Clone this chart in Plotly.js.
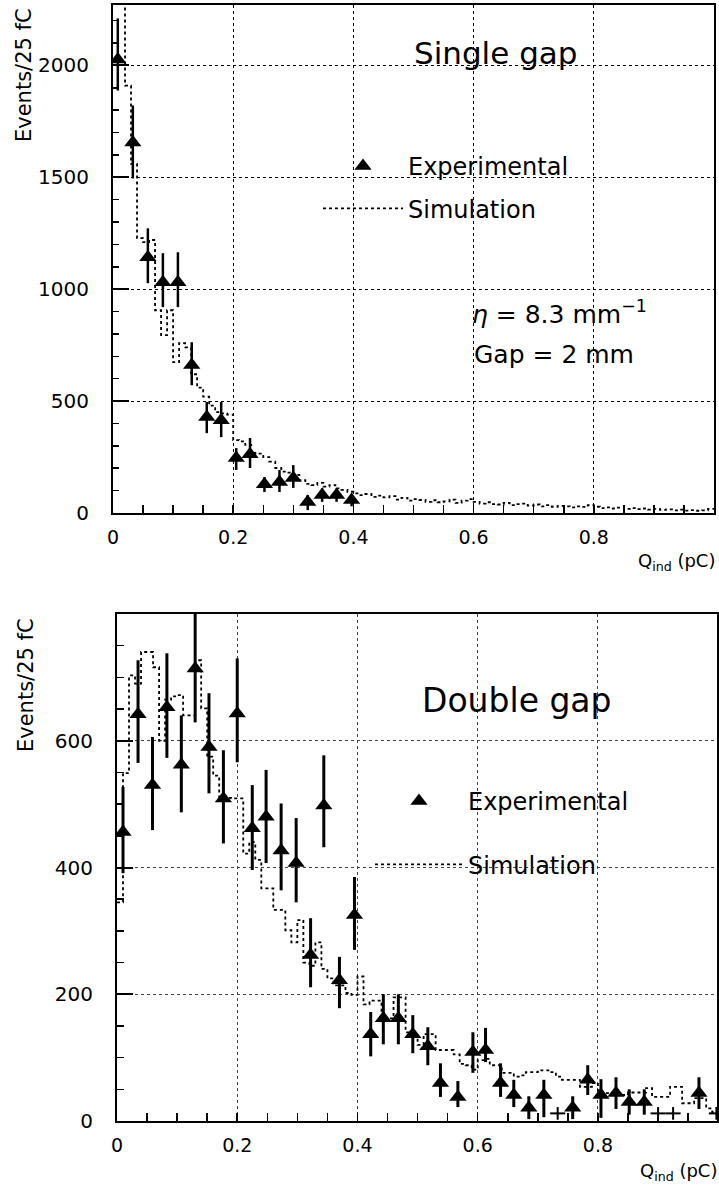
<!DOCTYPE html>
<html>
<head>
<meta charset="utf-8">
<script src="https://cdn.plot.ly/plotly-3.0.1.min.js"></script>
<style>
html,body{margin:0;padding:0;background:#fff;}
#chart{width:719px;height:1186px;}
</style>
</head>
<body>
<div id="chart"></div>
<script>
// ---------------- DATA ----------------
// Top panel: single gap
const topExpX   = [0.008, 0.033, 0.058, 0.083, 0.108, 0.131, 0.156, 0.180, 0.205, 0.228, 0.252, 0.277, 0.300, 0.324, 0.348, 0.372, 0.397];
const topExpY   = [2027, 1656, 1143, 1031, 1031, 661, 429, 415, 246, 263, 129, 138, 156, 49, 80, 80, 58];
const topExpErrUp   = [183, 165, 129, 130, 134, 102, 67, 81, 44, 72, 32, 54, 58, 31, 30, 30, 28];
const topExpErrDown = [139, 161, 116, 111, 111, 90, 72, 76, 54, 62, 35, 44, 44, 36, 30, 30, 28];

const simBinWidth = 0.01;
const topSimCounts = [
  2500, 2350, 1910, 1560, 1228, 1210, 1220, 906, 795, 906,
  674, 759, 740, 620, 560, 520, 480, 451, 445, 440,
  326, 320, 304, 268, 265, 250, 230, 201, 185, 180,
  170, 147, 130, 125, 135, 118, 125, 110, 103, 95,
  88, 80, 85, 72, 78, 70, 75, 60, 68, 55,
  62, 58, 50, 57, 48, 52, 60, 45, 55, 62,
  50, 42, 48, 40, 38, 45, 35, 40, 42, 33,
  38, 30, 35, 28, 32, 30, 25, 30, 27, 35,
  28, 22, 25, 20, 24, 18, 22, 17, 20, 15,
  18, 14, 16, 12, 15, 11, 13, 10, 12, 18
];

// Bottom panel: double gap
const botExpX = [0.010, 0.035, 0.059, 0.083, 0.107, 0.130, 0.153, 0.177, 0.200, 0.225, 0.248, 0.273, 0.298, 0.322, 0.344, 0.370, 0.395, 0.422, 0.443, 0.468, 0.492, 0.517, 0.538, 0.567, 0.592, 0.613, 0.638, 0.660, 0.685, 0.710, 0.758, 0.783, 0.805, 0.830, 0.852, 0.877, 0.968];
const botExpY = [456, 642, 530, 653, 562, 714, 590, 509, 643, 462, 480, 427, 407, 262, 498, 222, 325, 137, 162, 162, 137, 118, 60, 38, 109, 112, 60, 41, 21, 41, 21, 65, 41, 44, 30, 30, 44];
const botExpErrUp   = [71, 85, 76, 85, 78, 100, 85, 76, 87, 68, 74, 74, 71, 58, 79, 37, 60, 35, 38, 38, 30, 30, 31, 25, 31, 35, 31, 24, 18, 24, 18, 23, 25, 25, 20, 20, 25];
const botExpErrDown = [65, 77, 71, 80, 75, 85, 73, 71, 77, 66, 73, 63, 62, 51, 66, 44, 55, 35, 41, 41, 30, 30, 22, 16, 33, 19, 22, 19, 18, 35, 18, 24, 36, 25, 20, 20, 25];

// near-zero bins drawn as plain crosses
const botCrossX = [0.733, 0.900, 0.925, 0.997];
const botCrossY = [12, 12, 12, 12];
const botCrossErr = [10, 10, 10, 10];
const botCrossHalfWidth = [0.0125, 0.0125, 0.0125, 0.0125];

const botSimCounts = [
  345, 549, 703, 690, 740, 740, 716, 600, 665, 670,
  672, 640, 640, 727, 651, 575, 545, 510, 510, 509,
  509, 422, 440, 412, 367, 367, 333, 333, 301, 282,
  317, 250, 245, 282, 240, 225, 214, 214, 202, 199,
  228, 184, 190, 190, 162, 162, 195, 195, 140, 134,
  120, 137, 137, 112, 112, 112, 105, 90, 88, 81,
  96, 98, 88, 88, 76, 76, 70, 72, 77, 77,
  80, 80, 77, 70, 65, 65, 65, 54, 54, 60,
  44, 44, 41, 41, 41, 45, 45, 45, 52, 38,
  38, 38, 54, 54, 28, 28, 36, 36, 20, 14
];

const yTitle = 'Events/25 fC';
const xTitle = 'Q<sub>ind</sub> (pC)';

// ---------------- BUILD ----------------
function stepX(counts){ const e = counts.map((_, i) => +(i*simBinWidth).toFixed(4)); e.push(+(counts.length*simBinWidth).toFixed(4)); return e; }
function stepY(counts){ const c = counts.slice(); c.push(counts[counts.length-1]); return c; }

const FONT = 'DejaVu Sans, Arial, sans-serif';
const W = 719, H = 1186;
const px = v => v / W;
const py = v => 1 - v / H;

const traces = [
  { x: stepX(topSimCounts), y: stepY(topSimCounts), type: 'scatter', mode: 'lines',
    line: {shape: 'hv', color: '#000', width: 1.8, dash: 'dot'},
    name: 'Simulation', legendgroup: 's1', legendrank: 2, xaxis: 'x', yaxis: 'y', legend: 'legend', hoverinfo: 'skip'},
  { x: topExpX, y: topExpY, type: 'scatter', mode: 'markers',
    marker: {symbol: 'triangle-up', size: 15, color: '#000'},
    error_y: {type: 'data', symmetric: false, array: topExpErrUp, arrayminus: topExpErrDown, thickness: 2.5, width: 0, color: '#000'},
    name: 'Experimental', legendgroup: 'e1', legendrank: 1, xaxis: 'x', yaxis: 'y', legend: 'legend'},
  { x: stepX(botSimCounts), y: stepY(botSimCounts), type: 'scatter', mode: 'lines',
    line: {shape: 'hv', color: '#000', width: 1.8, dash: 'dot'},
    name: 'Simulation', legendgroup: 's2', legendrank: 2, xaxis: 'x2', yaxis: 'y2', legend: 'legend2', hoverinfo: 'skip'},
  { x: botExpX, y: botExpY, type: 'scatter', mode: 'markers',
    marker: {symbol: 'triangle-up', size: 15, color: '#000'},
    error_y: {type: 'data', symmetric: false, array: botExpErrUp, arrayminus: botExpErrDown, thickness: 3, width: 0, color: '#000'},
    name: 'Experimental', legendgroup: 'e2', legendrank: 1, xaxis: 'x2', yaxis: 'y2', legend: 'legend2'},
  { x: botCrossX, y: botCrossY, type: 'scatter', mode: 'markers',
    marker: {size: 2, color: '#000'},
    error_y: {type: 'data', array: botCrossErr, thickness: 2, width: 0, color: '#000'},
    error_x: {type: 'data', array: botCrossHalfWidth, thickness: 2, width: 0, color: '#000'},
    showlegend: false, xaxis: 'x2', yaxis: 'y2'}
];

const axBase = {
  showline: true, mirror: true, linecolor: '#000', linewidth: 2,
  zeroline: false, showgrid: true, griddash: 'dot', gridcolor: '#000', gridwidth: 1,
  ticks: 'inside', tickcolor: '#000', fixedrange: true,
  tickfont: {family: FONT, size: 19, color: '#000'}
};

const layout = {
  width: W, height: H,
  margin: {l: 0, r: 0, t: 0, b: 0, pad: 0},
  paper_bgcolor: '#fff', plot_bgcolor: '#fff',
  font: {family: FONT, color: '#000'},
  xaxis: Object.assign({}, axBase, {
    domain: [px(113), px(714)], range: [0, 1], anchor: 'y',
    tickvals: [0, 0.2, 0.4, 0.6, 0.8, 1], ticktext: ['0', '0.2', '0.4', '0.6', '0.8', '1'],
    ticklen: 8, tickwidth: 1.5, ticklabelstandoff: 6,
    minor: {dtick: 0.05, tick0: 0, ticks: 'inside', ticklen: 8, tickwidth: 1.5, tickcolor: '#000', showgrid: false}
  }),
  yaxis: Object.assign({}, axBase, {
    domain: [py(513), py(5)], range: [0, 2270], anchor: 'x',
    tickvals: [0, 500, 1000, 1500, 2000],
    tickfont: {family: FONT, size: 20, color: '#000'},
    ticklen: 16, tickwidth: 2, ticklabelstandoff: 18,
    minor: {dtick: 100, tick0: 0, ticks: 'inside', ticklen: 6, tickwidth: 1.5, tickcolor: '#000', showgrid: false}
  }),
  xaxis2: Object.assign({}, axBase, {
    domain: [px(117), px(717)], range: [0, 0.998], anchor: 'y2',
    tickvals: [0, 0.2, 0.4, 0.6, 0.8], ticktext: ['0', '0.2', '0.4', '0.6', '0.8'],
    gridcolor: '#444',
    ticklen: 8, tickwidth: 1.5, ticklabelstandoff: 6,
    minor: {dtick: 0.05, tick0: 0, ticks: 'inside', ticklen: 8, tickwidth: 1.5, tickcolor: '#000', showgrid: false}
  }),
  yaxis2: Object.assign({}, axBase, {
    domain: [py(1121), py(614)], range: [0, 800], anchor: 'x2',
    tickvals: [0, 200, 400, 600],
    gridcolor: '#444',
    tickfont: {family: FONT, size: 20, color: '#000'},
    ticklen: 16, tickwidth: 2, ticklabelstandoff: 18,
    minor: {dtick: 50, tick0: 0, ticks: 'inside', ticklen: 7, tickwidth: 1.5, tickcolor: '#000', showgrid: false}
  }),
  legend: {
    x: px(318), xanchor: 'left', y: py(144), yanchor: 'top',
    font: {family: FONT, size: 24, color: '#000'},
    itemwidth: 80, tracegroupgap: 8, traceorder: 'grouped',
    bgcolor: 'rgba(0,0,0,0)', borderwidth: 0
  },
  legend2: {
    x: px(370), xanchor: 'left', y: py(779), yanchor: 'top',
    font: {family: FONT, size: 24, color: '#000'},
    itemwidth: 88, tracegroupgap: 29, traceorder: 'grouped',
    bgcolor: 'rgba(0,0,0,0)', borderwidth: 0
  },
  annotations: [
    {text: 'Single gap', xref: 'paper', yref: 'paper', x: px(412), y: py(53), xanchor: 'left', yanchor: 'middle', showarrow: false, font: {family: FONT, size: 31, color: '#000'}},
    {text: '<i>η</i> = 8.3 mm<sup>−1</sup>', xref: 'paper', yref: 'paper', x: px(470), y: py(313), xanchor: 'left', yanchor: 'middle', showarrow: false, font: {family: FONT, size: 25, color: '#000'}},
    {text: 'Gap = 2 mm', xref: 'paper', yref: 'paper', x: px(472), y: py(355), xanchor: 'left', yanchor: 'middle', showarrow: false, font: {family: FONT, size: 25, color: '#000'}},
    {text: 'Double gap', xref: 'paper', yref: 'paper', x: px(420), y: py(700), xanchor: 'left', yanchor: 'middle', showarrow: false, font: {family: FONT, size: 33, color: '#000'}},
    {text: yTitle, xref: 'paper', yref: 'paper', x: px(24), y: py(75), xanchor: 'center', yanchor: 'middle', textangle: -90, showarrow: false, font: {family: FONT, size: 21, color: '#000'}},
    {text: yTitle, xref: 'paper', yref: 'paper', x: px(26), y: py(685), xanchor: 'center', yanchor: 'middle', textangle: -90, showarrow: false, font: {family: FONT, size: 21, color: '#000'}},
    {text: xTitle, xref: 'paper', yref: 'paper', x: px(717), y: py(562), xanchor: 'right', yanchor: 'middle', showarrow: false, font: {family: FONT, size: 18, color: '#000'}},
    {text: xTitle, xref: 'paper', yref: 'paper', x: px(719), y: py(1172), xanchor: 'right', yanchor: 'middle', showarrow: false, font: {family: FONT, size: 18, color: '#000'}}
  ]
};

Plotly.newPlot('chart', traces, layout, {displayModeBar: false, staticPlot: true});
</script>
</body>
</html>
